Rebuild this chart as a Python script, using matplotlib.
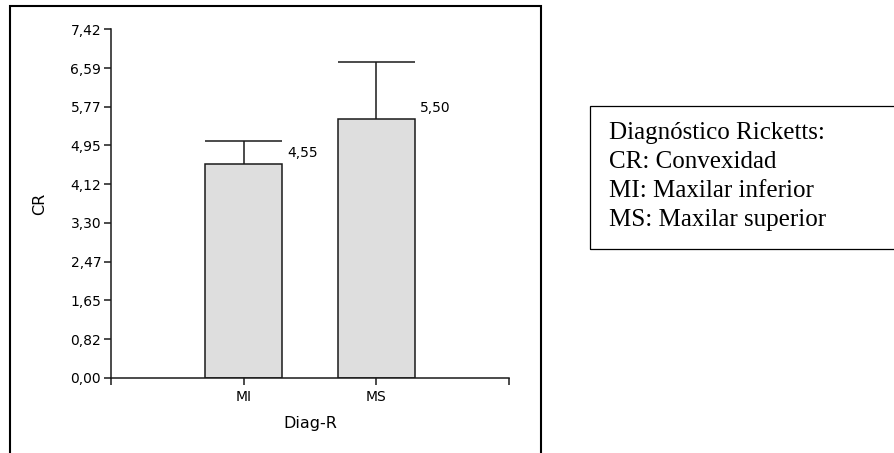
import matplotlib.pyplot as plt
import matplotlib.patches as mpatches

# data
categories = ["MI", "MS"]
means = [4.55, 5.50]
upper_err = [0.49, 1.22]
value_labels = ["4,55", "5,50"]
yticks = [0.00, 0.82, 1.65, 2.47, 3.30, 4.12, 4.95, 5.77, 6.59, 7.42]
ytick_labels = ["0,00", "0,82", "1,65", "2,47", "3,30", "4,12", "4,95", "5,77", "6,59", "7,42"]
note_lines = [
    "Diagnóstico Ricketts:",
    "CR: Convexidad",
    "MI: Maxilar inferior",
    "MS: Maxilar superior",
]

plt.rcParams["font.family"] = ["DejaVu Sans"]

W, H = 894, 453
fig = plt.figure(figsize=(W / 100, H / 100), dpi=100)
ax = fig.add_axes([111 / W, 1 - 377.7 / H, (509 - 111) / W, (377.7 - 29.3) / H])

pos = [1, 2]
width = 0.58
ax.bar(pos, means, width=width, color="#dedede", edgecolor="#1a1a1a", linewidth=1.1, zorder=2)

# one-sided error bars with caps as wide as the bars
for x, m, e in zip(pos, means, upper_err):
    ax.vlines(x, m, m + e, color="#1a1a1a", linewidth=1.1, zorder=1)
    ax.hlines(m + e, x - width / 2, x + width / 2, color="#1a1a1a", linewidth=1.1)

for x, m, lab in zip(pos, means, value_labels):
    ax.annotate(lab, (x + width / 2, m), xytext=(3.5, 8), textcoords="offset points",
                ha="left", va="center", fontsize=10)

ax.set_xlim(0, 3)
ax.set_ylim(0, 7.42)
ax.set_xticks([0, 1, 2, 3])
ax.set_xticklabels([""] + categories + [""])
ax.set_yticks(yticks)
ax.set_yticklabels(ytick_labels)
ax.tick_params(axis="both", labelsize=10, length=4.7, width=1.1, color="#1a1a1a")
ax.tick_params(axis="y", pad=2.4)
ax.tick_params(axis="x", pad=4.5)
for side in ("top", "right"):
    ax.spines[side].set_visible(False)
for side in ("left", "bottom"):
    ax.spines[side].set_linewidth(1.1)
    ax.spines[side].set_color("#1a1a1a")
ax.set_xlabel("Diag-R", fontsize=11.5, labelpad=8)
ax.set_ylabel("CR", fontsize=11.5, labelpad=17)

# outer frame around the chart, open at the bottom edge
fig.patches.append(mpatches.Rectangle((10 / W, -0.1), (541 - 10) / W, 1.1 - 6 / H,
                                      transform=fig.transFigure, fill=False,
                                      edgecolor="black", linewidth=1.5))

# note box on the right
fig.patches.append(mpatches.Rectangle((590 / W, 1 - 249 / H), 0.5, (249 - 105.5) / H,
                                      transform=fig.transFigure, fill=False,
                                      edgecolor="black", linewidth=0.9))
for i, line in enumerate(note_lines):
    fig.text(609 / W, 1 - (139.5 + 28.8 * i) / H, line, fontsize=18,
             family=["Liberation Serif", "DejaVu Serif"], va="baseline", ha="left")

fig.savefig("out.png", dpi=100)
